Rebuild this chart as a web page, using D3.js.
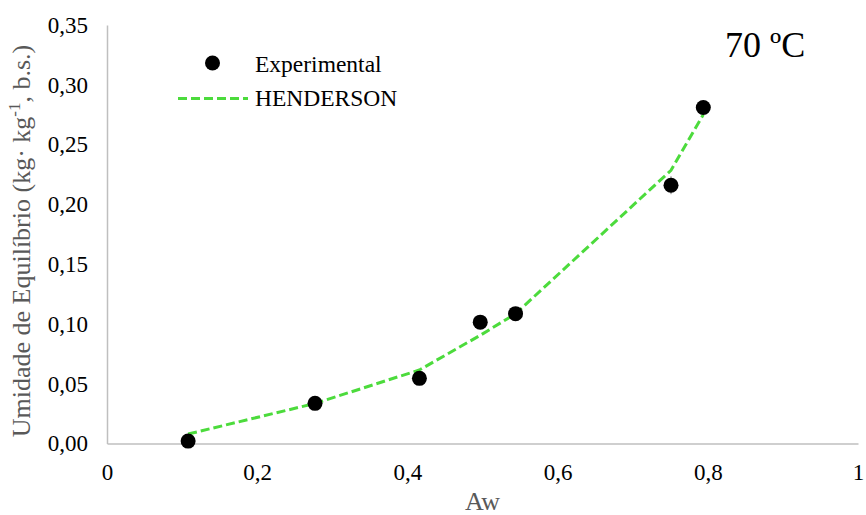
<!DOCTYPE html>
<html>
<head>
<meta charset="utf-8">
<script src="https://cdn.jsdelivr.net/npm/d3@7"></script>
<style>
  html, body { margin: 0; padding: 0; background: #fff; }
  svg { display: block; }
  svg text { font-family: "Liberation Serif", "Times New Roman", "DejaVu Serif", serif; }
</style>
</head>
<body>
<svg id="chart" width="866" height="515"></svg>
<script>
// Water activity of each sample
const aw = [0.108, 0.277, 0.416, 0.497, 0.544, 0.751, 0.794];
// Measured equilibrium moisture (kg kg-1, dry basis) and its deviation
const experimental = [0.002, 0.0336, 0.0545, 0.1015, 0.1086, 0.216, 0.281];
const deviation = [0.002, 0.002, 0.002, 0.003, 0.003, 0.0075, 0.003];
// Henderson model prediction at the same water activities
const henderson = [0.0079, 0.0335, 0.0615, 0.0905, 0.1085, 0.2285, 0.275];

const xTicks = [0, 0.2, 0.4, 0.6, 0.8, 1];
const yTicks = [0, 0.05, 0.10, 0.15, 0.20, 0.25, 0.30, 0.35];

const svg = d3.select("#chart");
const margin = { left: 107, right: 8, top: 25, bottom: 71.5 };
const W = 866, H = 515;

const x = d3.scaleLinear().domain([0, 1]).range([margin.left, W - margin.right]);
const y = d3.scaleLinear().domain([0, 0.35]).range([H - margin.bottom, margin.top]);

const comma = s => s.replace(".", ",");
const fmtX = d => comma(d3.format("~g")(d));
const fmtY = d => comma(d3.format(".2f")(d));

const axisGrey = "#bfbfbf";
const green = "#4CDB3C";

// Axes
const xAxis = svg.append("g")
  .attr("transform", `translate(0,${y(0)})`)
  .call(d3.axisBottom(x).tickValues(xTicks).tickFormat(fmtX).tickSize(0).tickPadding(20));
const yAxis = svg.append("g")
  .attr("transform", `translate(${x(0)},0)`)
  .call(d3.axisLeft(y).tickValues(yTicks).tickFormat(fmtY).tickSize(0).tickPadding(19));

[xAxis, yAxis].forEach(g => {
  g.attr("font-family", null).attr("font-size", null);
  g.select(".domain").attr("stroke", axisGrey).attr("stroke-width", 1.5);
  g.selectAll("text").attr("font-size", 23).attr("fill", "#000");
});

// Axis titles
svg.append("text")
  .attr("x", x(0.5)).attr("y", 510)
  .attr("text-anchor", "middle")
  .attr("font-size", 26).attr("fill", "#595959")
  .text("Aw");

const yTitle = svg.append("text")
  .attr("transform", `translate(30,241) rotate(-90)`)
  .attr("text-anchor", "middle")
  .attr("font-size", 26).attr("fill", "#595959");
yTitle.append("tspan").text("Umidade de Equilíbrio (kg· kg");
yTitle.append("tspan").attr("font-size", 17).attr("dy", -10).text("-1");
yTitle.append("tspan").attr("dy", 10).text(", b.s.)");

// Henderson model curve
const line = d3.line().x((d, i) => x(aw[i])).y(d => y(d));
svg.append("path")
  .datum(henderson)
  .attr("d", line)
  .attr("fill", "none")
  .attr("stroke", green)
  .attr("stroke-width", 3)
  .attr("stroke-dasharray", "9,4");

// Error bars
svg.append("g").selectAll("line")
  .data(experimental)
  .join("line")
  .attr("x1", (d, i) => x(aw[i])).attr("x2", (d, i) => x(aw[i]))
  .attr("y1", (d, i) => y(d - deviation[i])).attr("y2", (d, i) => y(d + deviation[i]))
  .attr("stroke", "#7f7f7f").attr("stroke-width", 1);

// Experimental points
svg.append("g").selectAll("circle")
  .data(experimental)
  .join("circle")
  .attr("cx", (d, i) => x(aw[i]))
  .attr("cy", d => y(d))
  .attr("r", 7.5)
  .attr("fill", "#000");

// Legend
const legend = svg.append("g").attr("font-size", 23.5).attr("fill", "#000");
legend.append("circle").attr("cx", 212.5).attr("cy", 63).attr("r", 7.5).attr("fill", "#000");
legend.append("text").attr("x", 255).attr("y", 72).text("Experimental");
legend.append("line")
  .attr("x1", 178).attr("x2", 248).attr("y1", 98.5).attr("y2", 98.5)
  .attr("stroke", green).attr("stroke-width", 3).attr("stroke-dasharray", "9,4");
legend.append("text").attr("x", 255).attr("y", 106).text("HENDERSON");

// Temperature label
svg.append("text")
  .attr("x", 725).attr("y", 57)
  .attr("font-size", 36).attr("fill", "#000")
  .text("70 ºC");
</script>
</body>
</html>
